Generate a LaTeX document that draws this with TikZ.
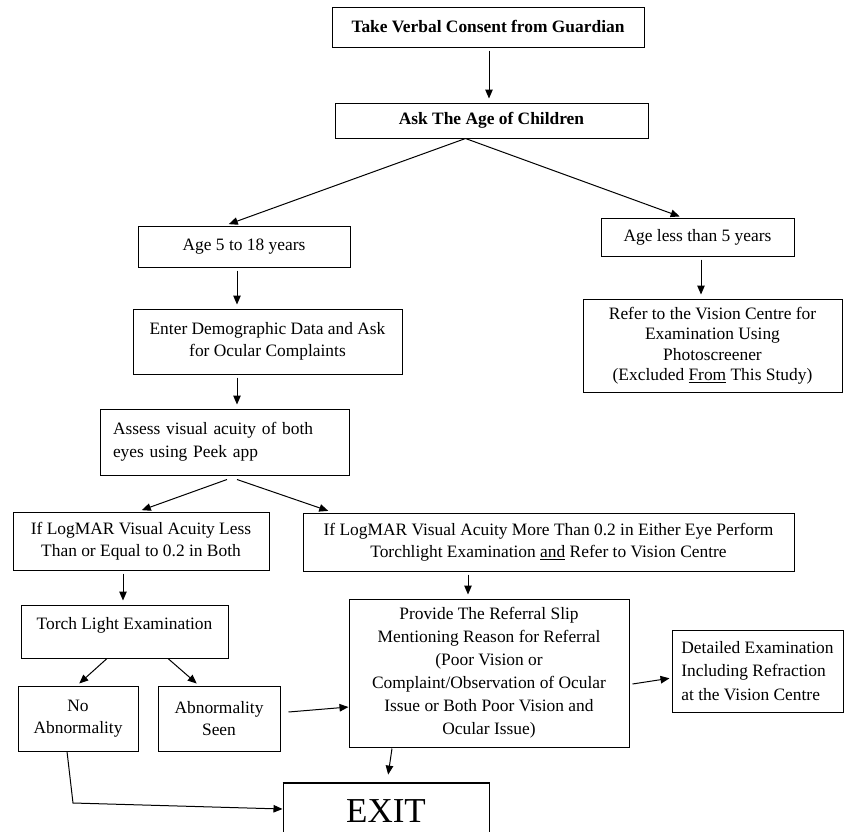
\documentclass[tikz,border=0pt]{standalone}
\usepackage{fontspec}
\setmainfont{Liberation Serif}
\usetikzlibrary{arrows.meta}
\newcommand{\boxfont}{\fontsize{17.4}{22}\selectfont}

\begin{document}
\begin{tikzpicture}[x=1pt, y=-1pt, line width=1pt, >={Triangle[length=9pt,width=7.5pt]}]
\tikzstyle{every node}=[rectangle, draw, align=center,
                        inner sep=2pt, font=\boxfont]
\useasboundingbox (0,0) rectangle (844,831);
\clip (0,0) rectangle (844,831);
\path (488,27) node[minimum width=312pt, minimum height=40pt, font=\boxfont\bfseries] (A) {Take Verbal Consent from Guardian};
\node[minimum width=313pt, minimum height=35pt, font=\boxfont\bfseries] (B) at (491.5,120.5) {Ask The Age of Children};
\node[minimum width=212pt, minimum height=41pt] (C) at (244,246.5) {Age 5 to 18 years};
\node[minimum width=193pt, minimum height=38pt] (D) at (697.5,237) {Age less than 5 years};
\node[minimum width=259pt, minimum height=93pt, font=\fontsize{17.4}{20.5}\selectfont] (E) at (712.5,345.5)
  {Refer to the Vision Centre for\\Examination Using\\Photoscreener\\(Excluded \underline{From} This Study)};
\node[minimum width=269pt, minimum height=65pt] (F) at (267.5,341.5) {Enter Demographic Data and Ask\\for Ocular Complaints};
\node[minimum width=249pt, minimum height=66pt, align=left, text width=223pt, font=\fontsize{17.4}{23}\selectfont] (G) at (224.5,442)
  {Assess visual acuity of both\\eyes using Peek app};
\node[minimum width=256pt, minimum height=58pt] (H) at (141,541) {If LogMAR Visual Acuity Less\\Than or Equal to 0.2 in Both};
\node[minimum width=491pt, minimum height=58pt] (I) at (548.5,542)
  {If LogMAR Visual Acuity More Than 0.2 in Either Eye Perform\\Torchlight Examination \underline{and} Refer to Vision Centre};
\node[minimum width=207pt, minimum height=53pt] (J) at (124.5,631.5) {Torch Light Examination\\[-6pt]\mbox{}};
\node[minimum width=280pt, minimum height=148pt, font=\fontsize{17.4}{23}\selectfont] (K) at (489,673)
  {Provide The Referral Slip\\Mentioning Reason for Referral\\(Poor Vision or\\Complaint/Observation of Ocular\\Issue or Both Poor Vision and\\Ocular Issue)};
\node[minimum width=120pt, minimum height=65pt] (L) at (78,718.5) {No\\Abnormality};
\node[minimum width=122pt, minimum height=65pt] (M) at (219,718.5) {Abnormality\\Seen};
\node[minimum width=171pt, minimum height=82pt, align=left, font=\fontsize{17.4}{23.5}\selectfont] (N) at (757.5,671)
  {Detailed Examination\\Including Refraction\\at the Vision Centre};
\node[minimum width=206pt, minimum height=57pt, font=\fontsize{35}{38}\selectfont] (X) at (386,811.5) {EXIT};
\draw[line width=1.8pt] (X.north west) -- (X.north east);
\coordinate (bend) at (73,803);
\foreach \i/\j/\x in {A/B/489,D/E/701,C/F/237,F/G/237,H/J/123,I/K/468}{\draw[->, shorten <=3pt, shorten >=4pt] (\x,0 |- \i.south) -- (\x,0 |- \j.north);}
\draw[->, shorten >=4pt] ([xshift=-26pt]B.south) -- ([xshift=-19pt]C.north);
\draw[->, shorten >=3pt] ([xshift=-26pt]B.south) -- ([xshift=-15pt]D.north);
\draw[->, shorten >=4pt] ([xshift=2.5pt,yshift=-4pt]G.south) -- ([xshift=-3pt]H.north);
\draw[->, shorten >=5pt] ([xshift=12.5pt,yshift=-4pt]G.south) -- ([xshift=-215.5pt]I.north);
\draw[->, shorten >=3pt] ([xshift=-17.5pt]J.south) -- ([xshift=-1pt]L.north);
\draw[->, shorten >=3pt] ([xshift=43.5pt]J.south) -- ([xshift=-20pt]M.north);
\draw[->] ([xshift=8pt,yshift=6.5pt]M.east) -- ([yshift=-34pt]K.west);
\draw[->, shorten >=2pt] ([xshift=3pt,yshift=-11pt]K.east) -- ([yshift=-7pt]N.west);
\draw[->, shorten >=8pt] ([xshift=-97pt,yshift=-1pt]K.south) -- ([xshift=1pt]X.north);
\draw[->] ([xshift=-11pt]L.south) -- (bend) -- ([yshift=2.5pt]X.west);
\end{tikzpicture}
\end{document}
